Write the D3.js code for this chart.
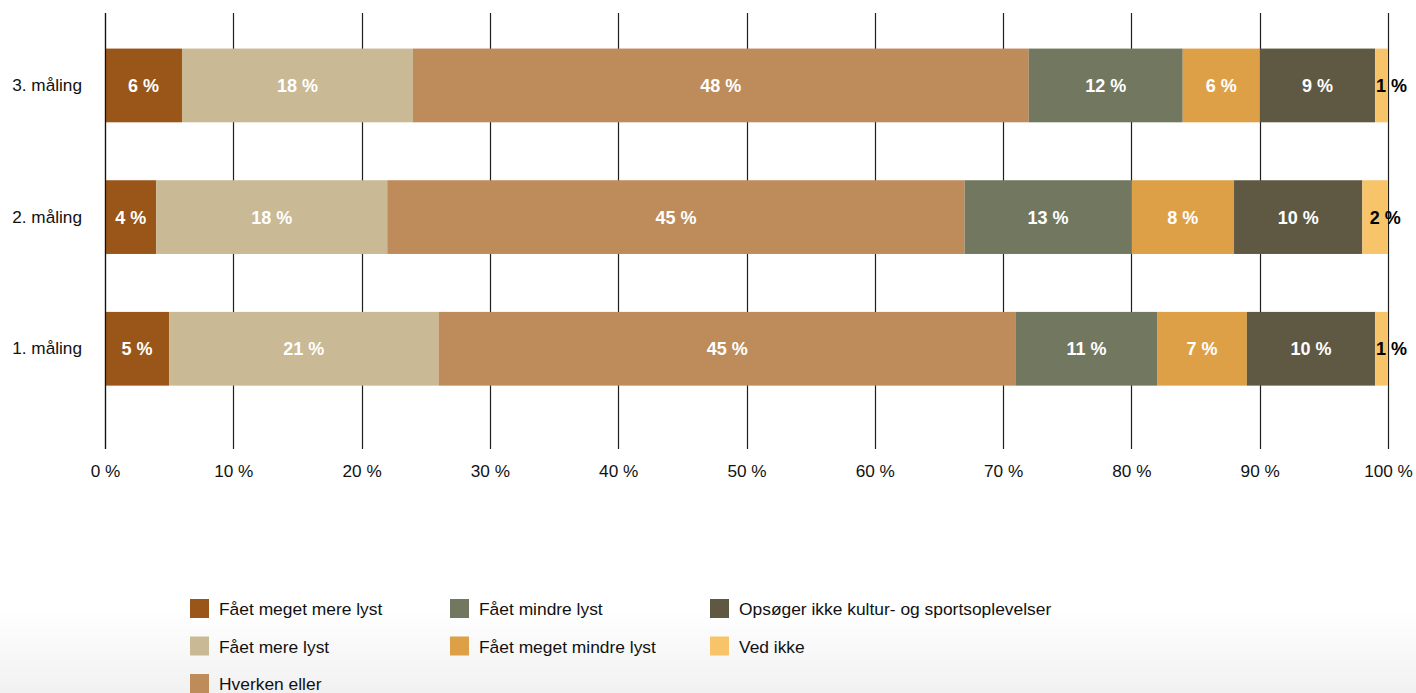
<!DOCTYPE html>
<html><head><meta charset="utf-8">
<script src="https://cdn.jsdelivr.net/npm/d3@7"></script>
<style>
html,body{margin:0;padding:0;background:#fff;}
svg{display:block;font-family:"Liberation Sans",Arial,Helvetica,sans-serif;}
</style></head>
<body><svg id="c" width="1416" height="693"></svg>
<script>
const categories = ["3. måling", "2. måling", "1. måling"];
const seriesNames = ["Fået meget mere lyst","Fået mere lyst","Hverken eller","Fået mindre lyst","Fået meget mindre lyst","Opsøger ikke kultur- og sportsoplevelser","Ved ikke"];
const seriesColors = ["#9a5518","#c9b994","#be8b5b","#72775f","#dea047","#5f5943","#f8c46a"];
const values = [
  [6, 4, 5],
  [18, 18, 21],
  [48, 45, 45],
  [12, 13, 11],
  [6, 8, 7],
  [9, 10, 10],
  [1, 2, 1]
];
const ticks = [0,10,20,30,40,50,60,70,80,90,100];

const svg = d3.select("#c");
const defs = svg.append("defs");
const grad = defs.append("linearGradient").attr("id","bg").attr("x1",0).attr("y1",0).attr("x2",0).attr("y2",1);
grad.append("stop").attr("offset","0%").attr("stop-color","#ffffff");
grad.append("stop").attr("offset","100%").attr("stop-color","#f1f1f1");
svg.append("rect").attr("x",0).attr("y",610).attr("width",1416).attr("height",83).attr("fill","url(#bg)");

const x = d3.scaleLinear().domain([0,100]).range([105,1388]);
const y = d3.scaleBand().domain(categories).range([19.6,414.6]).paddingInner(0.44).paddingOuter(0.22);

// grid
const grid = svg.append("g");
grid.selectAll("line").data(ticks).join("line")
  .attr("x1",d=>Math.round(x(d))+0.5).attr("x2",d=>Math.round(x(d))+0.5)
  .attr("y1",13).attr("y2",449)
  .attr("stroke","#1e1e1e").attr("stroke-width",1.2);

// x tick labels
const xa = svg.append("g").attr("transform","translate(0,449)")
  .call(d3.axisBottom(x).tickValues(ticks).tickSize(0).tickPadding(16).tickFormat(d=>d+" %"));
xa.select(".domain").remove();
xa.selectAll("text").attr("font-size",17.2).attr("fill","#111").attr("font-family","Liberation Sans, Arial, sans-serif");

// y labels
const ya = svg.append("g").attr("transform","translate(82,0)")
  .call(d3.axisLeft(y).tickSize(0).tickPadding(0));
ya.select(".domain").remove();
ya.selectAll("text").attr("font-size",17.2).attr("fill","#111").attr("font-family","Liberation Sans, Arial, sans-serif");

// stacked data
const rows = categories.map((c,ci)=>{
  const o = {cat:c};
  seriesNames.forEach((s,si)=>o[s]=values[si][ci]);
  return o;
});
const stack = d3.stack().keys(seriesNames)(rows);

const bars = svg.append("g");
stack.forEach((layer,si)=>{
  const g = bars.append("g").attr("fill",seriesColors[si]);
  g.selectAll("rect").data(layer).join("rect")
    .attr("x",d=>x(d[0])).attr("width",d=>x(d[1])-x(d[0]))
    .attr("y",d=>y(d.data.cat)).attr("height",y.bandwidth());
});
// 0% line over bars
svg.append("line").attr("x1",105.5).attr("x2",105.5).attr("y1",13).attr("y2",449).attr("stroke","#111").attr("stroke-width",1.2);

const labels = svg.append("g").attr("font-weight","bold").attr("font-size",18).attr("text-anchor","middle");
stack.forEach((layer,si)=>{
  labels.selectAll(null).data(layer).join("text")
    .attr("x",d=>{const w=x(d[1])-x(d[0]);const c=(x(d[0])+x(d[1]))/2;return w<30?c+10:c;})
    .attr("y",d=>y(d.data.cat)+y.bandwidth()/2)
    .attr("dy","0.36em")
    .attr("fill",d=>(x(d[1])-x(d[0]))<30?"#000":"#fff")
    .text(d=>(d[1]-d[0])+" %");
});

// legend
const legendCols = [[0,1,2],[3,4],[5,6]];
const colX = [190,450,710];
const leg = svg.append("g");
legendCols.forEach((col,ci)=>{
  col.forEach((si,ri)=>{
    const yy = 599 + ri*37.5;
    leg.append("rect").attr("x",colX[ci]).attr("y",yy).attr("width",19).attr("height",19).attr("fill",seriesColors[si]);
    leg.append("text").attr("x",colX[ci]+29).attr("y",yy+10).attr("dy","0.36em")
      .attr("font-size",17.4).attr("fill","#111").text(seriesNames[si]);
  });
});
</script></body></html>
